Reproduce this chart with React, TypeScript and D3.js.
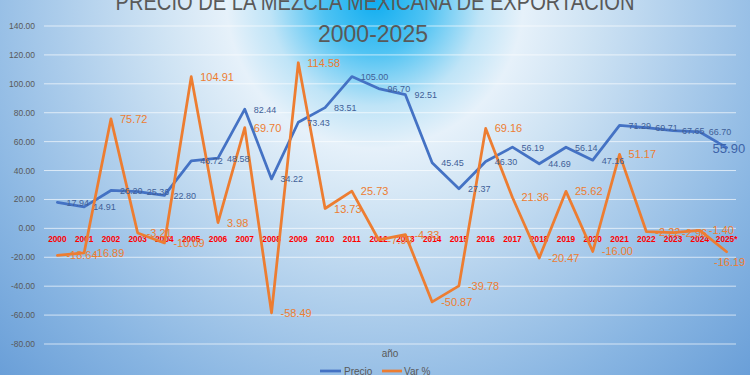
import React from "react";
import * as d3 from "d3";

const years = ["2000","2001","2002","2003","2004","2005","2006","2007","2008","2009","2010","2011","2012","2013","2014","2015","2016","2017","2018","2019","2020","2021","2022","2023","2024","2025*"];
const precio = [17.94,14.91,26.20,25.36,22.80,46.72,48.58,82.44,34.22,73.43,83.51,105.00,96.70,92.51,45.45,27.37,46.30,56.19,44.69,56.14,47.16,71.29,69.71,67.65,66.70,55.90];
const varPct = [-18.64,-16.89,75.72,-3.21,-10.09,104.91,3.98,69.70,-58.49,114.58,13.73,25.73,-7.90,-4.33,-50.87,-39.78,69.16,21.36,-20.47,25.62,-16.00,51.17,-2.22,-2.96,-1.40,-16.19];
const yTicks = [-80,-60,-40,-20,0,20,40,60,80,100,120,140];

const W = 750, H = 375;
const FONT = "'Liberation Sans', Arial, sans-serif";

export default function App() {
  const x = d3.scaleBand<string>().domain(years).range([44, 740]);
  const y = d3.scaleLinear().domain([-80, 140]).range([344, 26]);
  const cx = (d: string) => (x(d) as number) + x.bandwidth() / 2;

  const line = d3.line<number>().x((_, i) => cx(years[i])).y((v) => y(v));
  const n = years.length;

  return (
    <svg width={W} height={H} style={{ position: "absolute", left: 0, top: 0 }}>
      <defs>
        <radialGradient id="bg" gradientUnits="userSpaceOnUse" cx={375} cy={0} r={530} fx={375} fy={0}>
          <stop offset="0" stopColor="#0fadf0" />
          <stop offset="0.1" stopColor="#4fc3f3" />
          <stop offset="0.2" stopColor="#bfe4f7" />
          <stop offset="0.28" stopColor="#e6f1fa" />
          <stop offset="0.4" stopColor="#d0e4f4" />
          <stop offset="0.6" stopColor="#abcceb" />
          <stop offset="0.8" stopColor="#88b5e2" />
          <stop offset="1" stopColor="#6a9fd8" />
        </radialGradient>
      </defs>
      <rect x={0} y={0} width={W} height={H} fill="url(#bg)" />

      {yTicks.map((t) => (
        <g key={t}>
          <line x1={44} x2={736} y1={y(t)} y2={y(t)} stroke="#ffffff" strokeOpacity={0.65} strokeWidth={1} />
          <text x={35} y={y(t) + 3} textAnchor="end" fontFamily={FONT} fontSize={8.5} fill="#595959">
            {t.toFixed(2)}
          </text>
        </g>
      ))}

      {years.map((yr) => (
        <text key={yr} x={cx(yr)} y={y(0) + 14} textAnchor="middle" fontFamily={FONT} fontSize={8.3} fontWeight="bold" fill="#ff0000">
          {yr}
        </text>
      ))}

      <path d={line(precio) || ""} fill="none" stroke="#4472C4" strokeWidth={2.75} strokeLinejoin="round" strokeLinecap="round" />
      <path d={line(varPct) || ""} fill="none" stroke="#ED7D31" strokeWidth={2.75} strokeLinejoin="round" strokeLinecap="round" />

      {precio.map((v, i) => {
        const last = i === n - 1;
        return (
          <text key={"p" + i} x={cx(years[i]) + (last ? -14 : 9)} y={y(v) + (last ? 5 : 3.5)} fontFamily={FONT}
            fontSize={last ? 13 : 9} fill={last ? "#3d63a8" : "#3f5f98"}>
            {v.toFixed(2)}
          </text>
        );
      })}
      {varPct.map((v, i) => {
        const last = i === n - 1;
        return (
          <text key={"v" + i} x={cx(years[i]) + (last ? 3 : 9)} y={y(v) + (last ? 14 : 4)} textAnchor={last ? "middle" : "start"}
            fontFamily={FONT} fontSize={11} fill="#ED7D31">
            {v.toFixed(2)}
          </text>
        );
      })}

      <text x={375} y={10} textAnchor="middle" fontFamily={FONT} fontSize={23} fill="#595959" textLength={519} lengthAdjust="spacingAndGlyphs">
        PRECIO DE LA MEZCLA MEXICANA DE EXPORTACION
      </text>
      <text x={373} y={42} textAnchor="middle" fontFamily={FONT} fontSize={23} fill="#595959">
        2000-2025
      </text>

      <text x={390} y={357} textAnchor="middle" fontFamily={FONT} fontSize={10} fill="#595959">año</text>

      <line x1={320} x2={341} y1={371} y2={371} stroke="#4472C4" strokeWidth={2.75} />
      <text x={344} y={375} fontFamily={FONT} fontSize={10} fill="#595959">Precio</text>
      <line x1={382} x2={402} y1={371} y2={371} stroke="#ED7D31" strokeWidth={2.75} />
      <text x={404} y={375} fontFamily={FONT} fontSize={10} fill="#595959">Var %</text>
    </svg>
  );
}
